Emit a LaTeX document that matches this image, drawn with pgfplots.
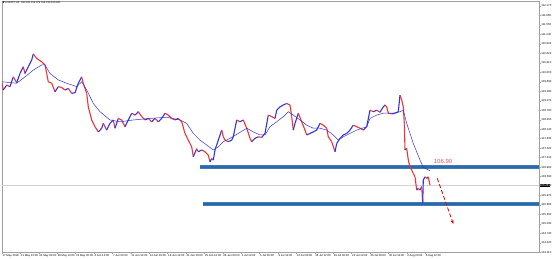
\documentclass[border=0pt]{standalone}
\usepackage{pgfplots}
\pgfplotsset{compat=1.18}
\usepackage{pgfplotstable}
\usepackage{fontspec}
\setmainfont{Liberation Sans}
\newfontfamily\dejavu{DejaVu Sans}
\usetikzlibrary{arrows.meta}
\definecolor{lvl}{RGB}{62,124,184}
\definecolor{lvlcore}{RGB}{44,104,170}
\definecolor{maline}{RGB}{50,50,205}
\definecolor{lblred}{RGB}{228,88,78}
\pgfplotstableread{
x p c
2 109.64 0
3.3 109.42 1
6.7 109.58 0
10 109.53 1
13.3 109.85 0
16.7 109.66 1
20 109.96 1
23.3 110.18 0
25 109.96 1
28.3 110.18 1
31.7 110.40 1
33.3 110.60 0
36.7 110.45 0
41.7 110.34 0
45 110.24 0
46.7 109.96 0
48.3 109.69 0
51.7 109.64 0
55 109.36 1
58.3 109.53 0
61.7 109.50 0
65 109.42 1
68.3 109.47 0
71.7 109.31 1
75 109.33 1
78.3 109.64 1
81.7 109.85 0
83.3 109.64 0
86.7 109.31 0
88.3 108.87 0
91.7 108.44 0
95 108.22 0
98.3 108.05 1
101.7 108.17 1
103.3 108.33 0
106.7 108.11 1
110 108.33 1
113.3 108.44 0
115 108.17 1
118.3 108.49 0
121.7 108.44 0
125 108.22 1
128.3 108.44 1
131.7 108.66 0
135 108.60 1
138.3 108.71 0
141.7 108.55 0
145 108.44 1
148.3 108.49 0
151.7 108.38 1
155 108.49 0
158.3 108.38 1
161.7 108.49 1
165 108.66 0
168.3 108.60 0
171.7 108.49 0
175 108.44 1
178.3 108.49 0
181.7 108.38 0
185 108.00 0
188.3 107.78 0
191.7 107.56 0
193.3 107.24 1
196.7 107.50 0
198.3 107.40 1
201.7 107.46 0
205 107.40 0
208.3 107.29 0
210 107.07 1
211.7 107.18 0
213.3 107.13 1
215 107.46 1
218.3 107.78 1
221.7 108.11 0
223.3 107.89 0
225 107.78 0
228.3 107.73 1
231.7 107.78 1
233.3 107.89 1
236.7 108.44 0
240 108.38 1
243.3 108.44 0
246.7 108.17 0
250 107.84 0
251.7 107.73 1
255 107.84 1
258.3 107.89 0
261.7 107.87 1
265 108.00 1
268.3 108.60 0
271.7 108.55 0
275 108.49 1
276.7 108.76 1
280 108.87 1
283.3 108.93 1
286.7 108.98 0
290 108.93 0
291.7 108.55 0
293.3 108.11 1
295 108.33 1
298.3 108.66 0
301.7 108.38 0
305 108.11 0
306.7 107.95 1
310 108.00 1
313.3 108.05 1
316.7 108.11 1
320 108.33 0
323.3 108.27 0
326.7 108.17 0
328.3 107.89 0
331.7 107.73 0
335 107.40 1
336.7 107.67 1
340 107.84 1
343.3 107.95 1
346.7 108.00 1
350 108.11 1
353.3 108.27 0
356.7 108.22 0
360 108.17 0
363.3 108.11 1
366.7 108.22 1
370 108.76 0
373.3 108.71 1
376.7 108.76 0
380 108.69 1
383.3 108.87 1
385 108.93 0
386.7 108.87 0
388.3 108.66 0
391.7 108.64 1
395 108.66 1
398.3 108.71 1
400 109.25 0
401.7 109.09 0
403.3 108.87 0
404.3 108.33 0
405 107.46 1
406.7 107.51 0
408.3 107.13 0
410 106.91 0
411.7 106.80 0
413.3 106.69 0
415 106.58 0
416.7 106.15 1
418.3 106.20 0
420 106.15 1
421.7 106.26 0
422.7 105.71 1
423.3 106.48 1
425 106.58 0
426.7 106.53 1
428.3 106.58 0
430 106.31 0
}\price
\pgfplotstableread{
x m
2 109.69
16.7 109.64
25 109.85
33.3 110.07
41.7 110.24
45 110.24
50 109.96
58.3 109.75
66.7 109.64
76.7 109.53
81.7 109.69
86.7 109.42
93.3 108.98
100 108.71
110 108.44
120 108.38
133.3 108.44
150 108.49
166.7 108.53
180 108.44
186.7 108.33
193.3 108.00
200 107.78
206.7 107.62
213.3 107.46
218.3 107.56
223.3 107.73
230 107.84
238.3 108.00
246.7 108.17
253.3 108.05
260 107.95
265 107.95
270 108.22
276.7 108.38
283.3 108.55
288.3 108.71
293.3 108.60
300 108.44
306.7 108.27
313.3 108.17
320 108.17
326.7 108.11
333.3 107.95
338.3 107.78
343.3 107.89
350 108.00
356.7 108.11
366.7 108.22
370 108.49
376.7 108.60
383.3 108.66
393.3 108.66
400 108.71
403.3 108.76
406.7 108.33
413.3 107.67
420 107.13
423.3 106.89
430 106.78
}\mavg
\begin{document}
\begin{tikzpicture}
\useasboundingbox (0,0) rectangle (553pt,259pt);
\begin{axis}[
  at={(2pt,6.3pt)}, anchor=south west,
  scale only axis, width=537pt, height=251.7pt,
  xmin=2, xmax=539, ymin=104.10, ymax=112.33,
  clip mode=individual,
  axis line style={gray!75, line width=0.5pt},
  tick align=outside, major tick length=1.5pt,
  tick style={gray!70, line width=0.3pt},
  ytick pos=right, yticklabel pos=right,
  xtick pos=bottom,
  ytick={104.11,104.42,104.73,105.04,105.35,105.66,105.97,106.28,106.59,106.90,107.21,107.52,107.83,108.14,108.45,108.76,109.07,109.38,109.69,110.00,110.31,110.62,110.93,111.24,111.55,111.86,112.17},
  yticklabels={104.110,104.420,104.730,105.040,105.350,105.660,105.970,106.280,106.590,106.900,107.210,107.520,107.830,108.140,108.450,108.760,109.070,109.380,109.690,110.000,110.310,110.620,110.930,111.240,111.550,111.860,112.170},
  y tick label style={font=\fontsize{2.8}{3}\selectfont, inner sep=0.4pt, xshift=0.3pt},
  xtick={2,20.4,38.8,57.2,75.6,94,112.4,130.8,149.2,167.6,186,204.4,222.8,241.2,259.6,278,296.4,314.8,333.2,351.6,370,388.4,406.8,425.2},
  xticklabels={17 May 2019,21 May 12:00,24 May 00:00,28 May 12:00,31 May 00:00,4 Jun 12:00,7 Jun 00:00,11 Jun 12:00,14 Jun 00:00,18 Jun 12:00,21 Jun 00:00,25 Jun 12:00,28 Jun 00:00,2 Jul 12:00,5 Jul 00:00,9 Jul 12:00,12 Jul 00:00,16 Jul 12:00,19 Jul 00:00,23 Jul 12:00,26 Jul 00:00,30 Jul 12:00,2 Aug 00:00,6 Aug 12:00},
  x tick label style={font=\fontsize{2.8}{3}\selectfont, anchor=north west, inner sep=0.4pt, yshift=0.3pt},
  colormap={rb}{rgb255=(240,50,50) rgb255=(50,50,230)},
  point meta min=0, point meta max=1,
]
% current price line
\addplot[gray!35, line width=0.4pt] coordinates {(2,106.31) (539,106.31)};
% support / resistance levels
\addplot[lvl, line width=3.4pt] coordinates {(200,106.90) (539,106.90)};
\addplot[lvlcore, line width=1.8pt] coordinates {(200,106.90) (539,106.90)};
\addplot[lvl, line width=3.4pt] coordinates {(203,105.69) (539,105.69)};
\addplot[lvlcore, line width=1.8pt] coordinates {(203,105.69) (539,105.69)};
% price
\addplot[mesh, shader=flat corner, line width=1.1pt, point meta=explicit] table[x=x, y=p, meta=c] {\price};
% moving average
\addplot[maline, line width=0.5pt] table[x=x, y=m] {\mavg};
% annotations
\node[text=lblred, font=\fontsize{6}{7}\selectfont] at (axis cs:443,107.10) {106.90};
\draw[red!90!black, line width=0.8pt, dash pattern=on 4pt off 2.2pt, -{Stealth[length=4pt,width=3pt]}] (axis cs:437.3,106.53) -- (axis cs:453.3,105.04);
\node[anchor=west, fill=black, text=white, inner sep=0.4pt, font=\fontsize{2.8}{3}\selectfont] at (axis cs:539.3,106.31) {106.281};
\node[anchor=north west, inner sep=0.5pt, font=\fontsize{2.6}{3}\selectfont] at (rel axis cs:0,1) {{\dejavu ▼} USDJPY,H4\ \ 106.240 106.379 106.194 106.281};
\end{axis}
\end{tikzpicture}
\end{document}
